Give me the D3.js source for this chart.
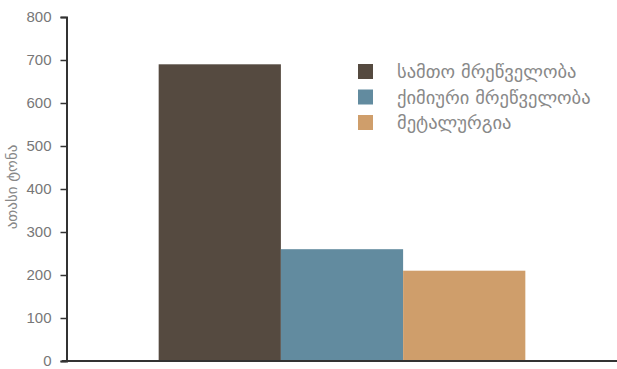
<!DOCTYPE html>
<html>
<head>
<meta charset="utf-8">
<script src="https://cdn.jsdelivr.net/npm/d3@7"></script>
<style>
  html, body { margin: 0; padding: 0; background: #fff; }
  svg { display: block; }
</style>
</head>
<body>
<script>
// Production volume by industry (thousand tonnes)
const categories = [""];
const seriesNames = ["სამთო მრეწველობა", "ქიმიური მრეწველობა", "მეტალურგია"];
const seriesValues = [690, 260, 210];
const seriesColors = ["#554a40", "#628b9f", "#cf9e6b"];
const yTicks = [0, 100, 200, 300, 400, 500, 600, 700, 800];
const yLabel = "ათასი ტონა";

const width = 617, height = 369;
const margin = { top: 17, right: 0, bottom: 8, left: 67 };

const svg = d3.select("body").append("svg")
  .attr("width", width)
  .attr("height", height);

const x0 = d3.scaleBand()
  .domain(categories)
  .range([margin.left, width - margin.right])
  .padding(0.2);

const x1 = d3.scaleBand()
  .domain(seriesNames)
  .range([0, x0.bandwidth()])
  .padding(0);

const y = d3.scaleLinear()
  .domain([0, 800])
  .range([height - margin.bottom, margin.top]);

// bars
const groups = svg.append("g")
  .selectAll("g")
  .data(categories)
  .join("g")
  .attr("transform", d => `translate(${x0(d)},0)`);

groups.selectAll("rect")
  .data(() => seriesNames.map((name, i) => ({ name, value: seriesValues[i], color: seriesColors[i] })))
  .join("rect")
  .attr("x", d => x1(d.name))
  .attr("y", d => y(d.value))
  .attr("width", x1.bandwidth())
  .attr("height", d => y(0) - y(d.value))
  .attr("fill", d => d.color);

// y axis
const yAxis = svg.append("g")
  .attr("transform", `translate(${margin.left - 0.5},0)`)
  .call(d3.axisLeft(y).tickValues(yTicks).tickSize(6).tickPadding(9));
yAxis.select(".domain").attr("stroke", "#333").attr("stroke-width", 2);
yAxis.selectAll(".tick line").attr("stroke", "#333").attr("stroke-width", 1.5);
yAxis.selectAll(".tick text")
  .attr("fill", "#777")
  .style("font-family", "'Liberation Sans', Arial, sans-serif")
  .style("font-size", "15px");

// x axis baseline
svg.append("line")
  .attr("x1", margin.left - 5)
  .attr("x2", width)
  .attr("y1", y(0))
  .attr("y2", y(0))
  .attr("stroke", "#333")
  .attr("stroke-width", 2);

// y axis title
svg.append("text")
  .attr("transform", `translate(17,${(y(0) + y(800)) / 2 - 2}) rotate(-90)`)
  .attr("text-anchor", "middle")
  .attr("fill", "#888")
  .style("font-family", "'DejaVu Sans', sans-serif")
  .style("font-size", "15px")
  .text(yLabel);

// legend
const legend = svg.append("g")
  .attr("transform", "translate(358,64)")
  .selectAll("g")
  .data(seriesNames)
  .join("g")
  .attr("transform", (d, i) => `translate(0,${i * 25.5})`);

legend.append("rect")
  .attr("width", 15)
  .attr("height", 15)
  .attr("fill", (d, i) => seriesColors[i]);

legend.append("text")
  .attr("x", 39)
  .attr("y", 8)
  .attr("dy", "0.35em")
  .attr("fill", "#888")
  .style("font-family", "'DejaVu Sans', sans-serif")
  .style("font-size", "18.5px")
  .text(d => d);
</script>
</body>
</html>
